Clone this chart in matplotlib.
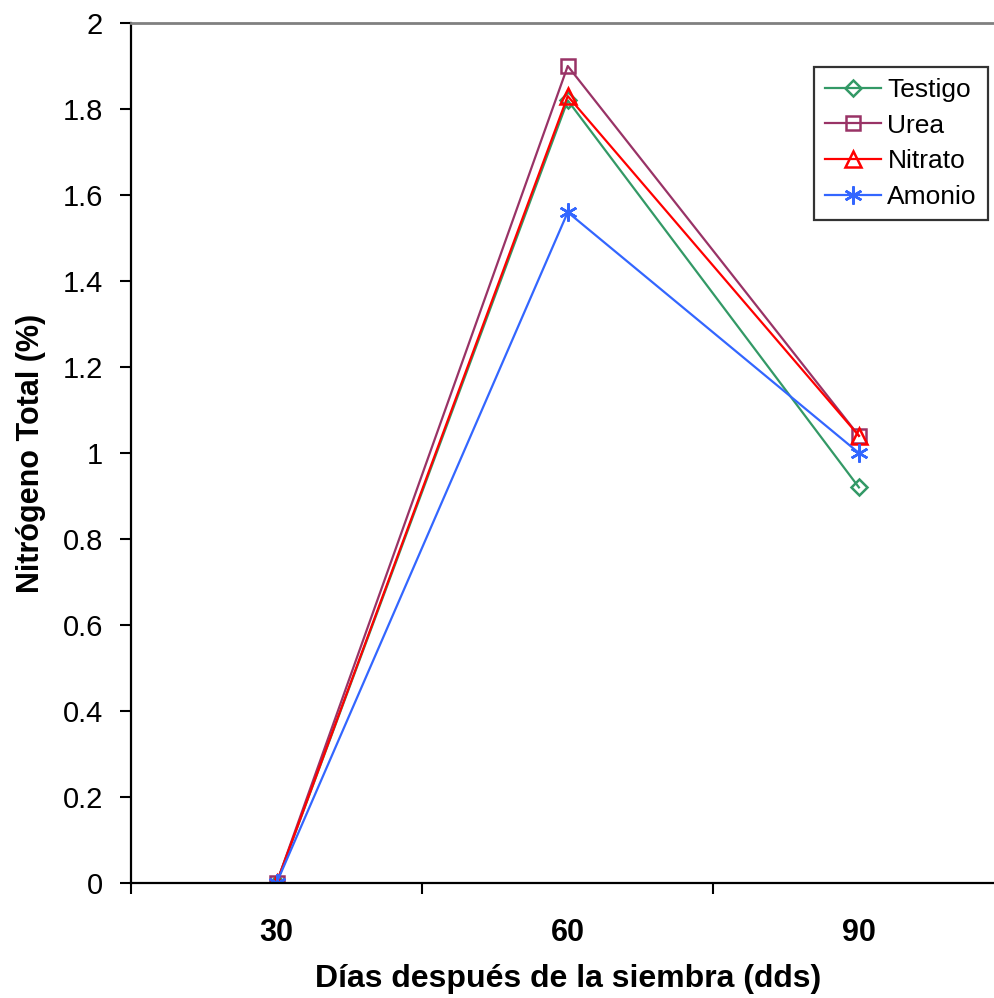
import matplotlib
matplotlib.use("Agg")
import matplotlib.pyplot as plt
import numpy as np

plt.rcParams['font.family'] = ['Liberation Sans', 'DejaVu Sans']

dias = ["30", "60", "90"]
testigo = [0.0, 1.82, 0.92]
urea = [0.0, 1.90, 1.04]
nitrato = [0.0, 1.83, 1.04]
amonio = [0.0, 1.56, 1.00]
y_ticks = [0, 0.2, 0.4, 0.6, 0.8, 1, 1.2, 1.4, 1.6, 1.8, 2]
y_tick_labels = ["0", "0.2", "0.4", "0.6", "0.8", "1", "1.2", "1.4", "1.6", "1.8", "2"]

series = [
    ("Testigo", testigo, "#339966", dict(marker="D", markersize=8)),
    ("Urea", urea, "#993366", dict(marker="s", markersize=10)),
    ("Nitrato", nitrato, "#FF0000", dict(marker="^", markersize=11)),
    ("Amonio", amonio, "#3366FF", dict(marker=(6, 2, 0), markersize=13)),
]

fig = plt.figure(figsize=(9.95, 9.98), dpi=100)
ax = fig.add_axes([131 / 995, 115 / 998, (1004.5 - 131) / 995, (883 - 23) / 998])

x = np.arange(len(dias))
for name, vals, color, mk in series:
    ax.plot(x, vals, color=color, linewidth=1.6, label=name,
            markerfacecolor="none", markeredgecolor=color, markeredgewidth=1.8,
            **mk)

ax.set_xlim(-0.5, 2.5)
ax.set_ylim(0, 2)
ax.set_xticks(x)
ax.set_xticklabels(dias, fontsize=22, fontweight="bold")
ax.set_xticks([-0.5, 0.5, 1.5, 2.5], minor=True)
ax.tick_params(axis="x", which="major", length=0, pad=25)
ax.tick_params(axis="x", which="minor", length=8, width=1.5, direction="out")
ax.set_yticks(y_ticks)
ax.set_yticklabels(y_tick_labels, fontsize=21)
ax.tick_params(axis="y", length=8, width=1.5, direction="out", pad=12)

for side in ("left", "bottom"):
    ax.spines[side].set_linewidth(1.6)
    ax.spines[side].set_color("black")
ax.spines["top"].set_color("#808080")
ax.spines["top"].set_linewidth(2)
ax.spines["right"].set_visible(False)

ax.set_xlabel("Días después de la siembra (dds)", fontsize=23, fontweight="bold", labelpad=12)
ax.set_ylabel("Nitrógeno Total (%)", fontsize=22, fontweight="bold", labelpad=12)

leg = ax.legend(loc="upper right", fontsize=19, frameon=True, fancybox=False,
                edgecolor="black", handlelength=2.1, handletextpad=0.25,
                borderpad=0.42, labelspacing=0.44, borderaxespad=0)
leg.get_frame().set_linewidth(1.6)
leg.set_bbox_to_anchor((988 / 995, (998 - 67) / 998), transform=fig.transFigure)

fig.savefig("out.png", dpi=100)
